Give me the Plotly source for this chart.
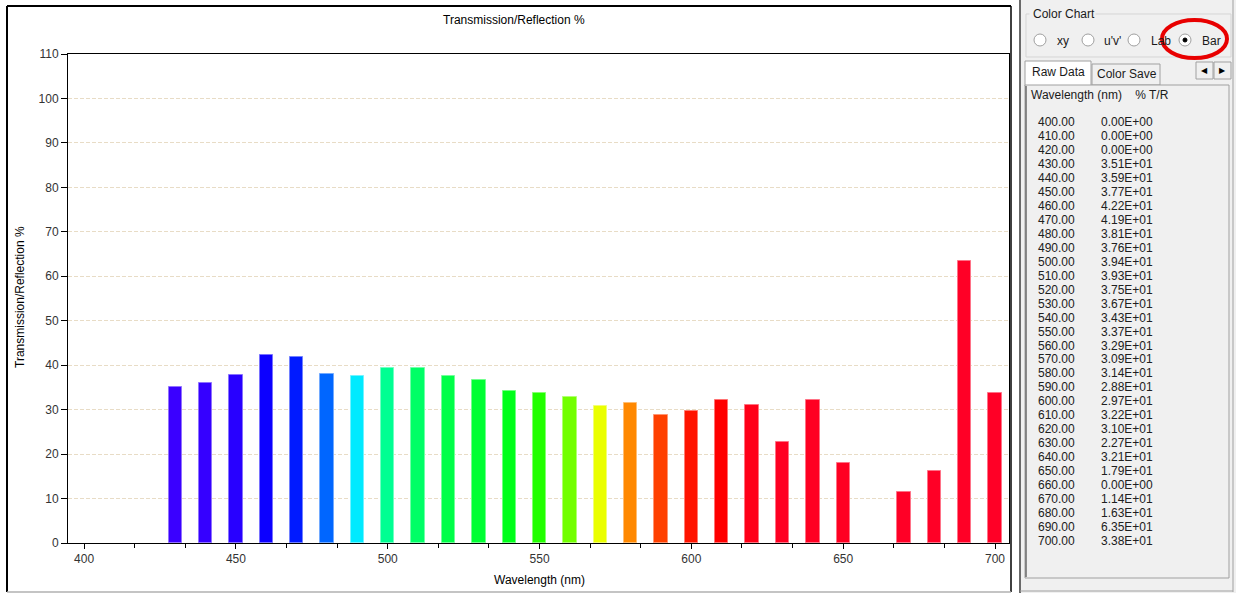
import plotly.graph_objects as go

# spectral bar data (nm, % T/R)
wavelengths = [400, 410, 420, 430, 440, 450, 460, 470, 480, 490, 500,
               510, 520, 530, 540, 550, 560, 570, 580, 590, 600,
               610, 620, 630, 640, 650, 660, 670, 680, 690, 700]
percent_tr = [0.0, 0.0, 0.0, 35.1, 35.9, 37.7, 42.2, 41.9, 38.1, 37.6, 39.4,
              39.3, 37.5, 36.7, 34.3, 33.7, 32.9, 30.9, 31.4, 28.8, 29.7,
              32.2, 31.0, 22.7, 32.1, 17.9, 0.0, 11.4, 16.3, 63.5, 33.8]
bar_colors = ["#4000ff", "#3c00ff", "#3800ff", "#3a00ff", "#3500ff", "#2800ff", "#0c00ff", "#001aff", "#0066ff", "#00eaff", "#00ff92",
              "#00ff66", "#00ff48", "#00ff33", "#00ff1a", "#22ff00", "#72ff00", "#eaff00", "#ff8800", "#ff4000", "#ff1400",
              "#ff0000", "#ff0018", "#ff0022", "#ff0022", "#ff0022", "#ff0026", "#ff0026", "#ff0026", "#ff0026", "#ff0026"]
y_ticks = list(range(0, 111, 10))
x_ticks = [400, 450, 500, 550, 600, 650, 700]
radio_labels = ["xy", "u'v'", "Lab", "Bar"]

W, H = 1236, 593
L, R, T, B = 68, 1009, 54, 543   # plot area in pixels


def px(x):
    return (x - L) / (R - L)


def py(y):
    return (B - y) / (B - T)


def lighter(c, f=0.45):
    r, g, b = int(c[1:3], 16), int(c[3:5], 16), int(c[5:7], 16)
    r, g, b = [int(v + (255 - v) * f) for v in (r, g, b)]
    return "rgb(%d,%d,%d)" % (r, g, b)


FONT = "Liberation Sans, Arial, sans-serif"

fig = go.Figure()
fig.add_trace(go.Bar(
    x=wavelengths, y=percent_tr, width=4.4,
    marker=dict(color=bar_colors,
                line=dict(color=[lighter(c) for c in bar_colors],
                          width=[1 if v > 0 else 0 for v in percent_tr])),
    showlegend=False, hoverinfo="x+y"
))

shapes = []
ann = []

def rect(x0, y0, x1, y1, line="#a0a0a0", fill=None, w=1, layer="above"):
    shapes.append(dict(type="rect", xref="paper", yref="paper",
                       x0=px(x0), x1=px(x1), y0=py(y0), y1=py(y1),
                       line=dict(color=line, width=w),
                       fillcolor=fill if fill else "rgba(0,0,0,0)", layer=layer))

def line(x0, y0, x1, y1, color, w=1):
    shapes.append(dict(type="line", xref="paper", yref="paper",
                       x0=px(x0), x1=px(x1), y0=py(y0), y1=py(y1),
                       line=dict(color=color, width=w), layer="above"))

def text(x, y, s, size=12, anchor="left", color="#1a1a1a", angle=0):
    ann.append(dict(xref="paper", yref="paper", x=px(x), y=py(y), text=s,
                    showarrow=False, xanchor=anchor, yanchor="middle",
                    textangle=angle,
                    font=dict(family=FONT, size=size, color=color)))

# chart frame
line(7, 6, 1011, 6, "#000000", 2)
line(7, 6, 7, 592, "#000000", 2)
line(1011, 6, 1011, 592, "#000000", 1.5)
line(7, 592, 1011, 592, "#b0b0b0", 1.5)

# right panel
rect(1020, 0, 1236, 593, line="#f0f0f0", fill="#f0f0f0", layer="below")
line(1020, 0, 1020, 593, "#6a6a6a", 2)
line(1233, 0, 1233, 592, "#a0a0a0", 1)
line(1020, 591, 1233, 591, "#a0a0a0", 1)

# Color Chart group box
rect(1026, 14, 1231, 57, line="#d5d5d5")
rect(1030, 7, 1095, 21, line="#f0f0f0", fill="#f0f0f0")
text(1031, 14, "Color Chart")
radio_x = [1040, 1088, 1134, 1185]
label_x = [1055, 1102, 1149, 1200]
for i, lab in enumerate(radio_labels):
    shapes.append(dict(type="circle", xref="paper", yref="paper",
                       x0=px(radio_x[i] - 6), x1=px(radio_x[i] + 6),
                       y0=py(40 + 6), y1=py(40 - 6),
                       line=dict(color="#a0a0a0", width=1), fillcolor="#ffffff", layer="above"))
    text(label_x[i], 41, lab)
shapes.append(dict(type="circle", xref="paper", yref="paper",
                   x0=px(1185 - 2), x1=px(1185 + 2), y0=py(42), y1=py(38),
                   line=dict(color="#000000", width=1), fillcolor="#000000", layer="above"))
# red highlight ellipse
shapes.append(dict(type="circle", xref="paper", yref="paper",
                   x0=px(1162), x1=px(1227), y0=py(58), y1=py(20),
                   line=dict(color="#e80000", width=4), layer="above"))

# tabs
rect(1025, 61, 1091, 86, line="#a0a0a0", fill="#ffffff")
text(1030, 72, "Raw Data")
rect(1092, 64, 1160, 85, line="#a0a0a0", fill="#f0f0f0")
text(1095, 74, "Color Save")
rect(1196, 62, 1213, 79, line="#a0a0a0", fill="#f0f0f0")
rect(1214, 62, 1231, 79, line="#a0a0a0", fill="#f0f0f0")
text(1204.5, 70, "◀", size=8, anchor="center", color="#000000")
text(1222.5, 70, "▶", size=8, anchor="center", color="#000000")

# raw data list
rect(1025, 85, 1229, 578, line="#a0a0a0", fill="#f0f0f0")
line(1026, 86, 1026, 577, "#6a6a6a", 1.5)
text(1029, 95, "Wavelength (nm)&nbsp;&nbsp;&nbsp;&nbsp;% T/R")
for i, (w, v) in enumerate(zip(wavelengths, percent_tr)):
    yy = 122 + i * 13.97
    text(1036, yy, "%.2f" % w, color="#202020")
    text(1099, yy, "%.2E" % v, color="#202020")

# titles
text(514, 20, "Transmission/Reflection %", size=12, anchor="center", color="#000000")
text(539, 580, "Wavelength (nm)", size=12, anchor="center", color="#000000")
text(20, 297, "Transmission/Reflection %", size=12, anchor="center", color="#000000", angle=-90)

fig.update_layout(
    width=W, height=H,
    margin=dict(l=L, r=W - R, t=T, b=H - B),
    paper_bgcolor="#ffffff", plot_bgcolor="#ffffff",
    font=dict(family=FONT, size=12, color="#333333"),
    shapes=shapes, annotations=ann,
    bargap=0,
)
fig.update_xaxes(
    range=[394.7, 704.6], tickvals=x_ticks, ticks="outside", ticklen=5,
    tickcolor="#000000", showline=True, linecolor="#000000", linewidth=1,
    mirror=True, showgrid=False, zeroline=False,
    tickfont=dict(size=12, color="#333333"),
    minor=dict(tick0=400, dtick=50 / 3, ticks="outside", ticklen=4, tickcolor="#000000", showgrid=False),
)
fig.update_yaxes(
    range=[0, 110], tickvals=y_ticks, ticks="outside", ticklen=6,
    tickcolor="#000000", showline=True, linecolor="#000000", linewidth=1,
    mirror=True, showgrid=True, gridcolor="#e8dcc6", griddash="4px,2px", gridwidth=1,
    zeroline=False, tickfont=dict(size=12, color="#333333"),
)

fig.write_html("out.html", config={"displayModeBar": False},
               post_script="document.body.style.margin='0';document.body.style.overflow='hidden';")
